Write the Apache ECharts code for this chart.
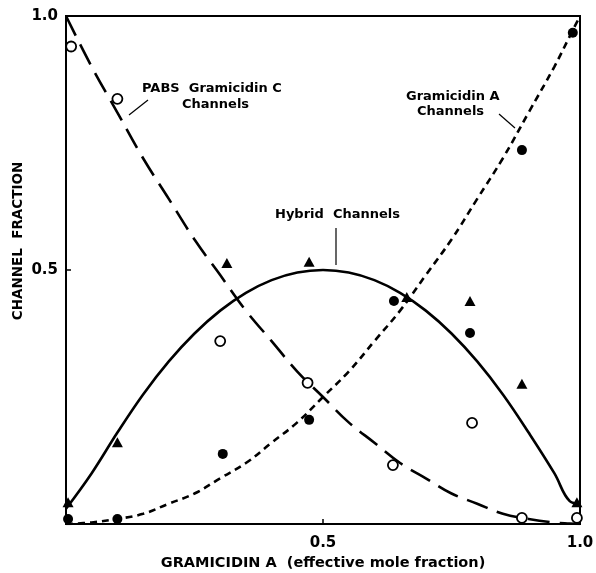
<!DOCTYPE html>
<html>
<head>
<meta charset="utf-8">
<script src="https://cdn.jsdelivr.net/npm/echarts@6/dist/echarts.min.js"></script>
<style>
  html, body { margin: 0; padding: 0; background: #fff; }
  #chart { width: 596px; height: 573px; }
</style>
</head>
<body>
<div id="chart"></div>
<script>
// Fitted curves: channel fraction vs. effective mole fraction of gramicidin A
const curveX      = [0, 0.05, 0.1, 0.15, 0.2, 0.25, 0.3, 0.35, 0.4, 0.45, 0.5, 0.55, 0.6, 0.65, 0.7, 0.75, 0.8, 0.85, 0.9, 0.95, 0.98, 1.0];
const pabsCurve   = [1.0, 0.9, 0.81, 0.72, 0.64, 0.56, 0.49, 0.42, 0.36, 0.3, 0.25, 0.2, 0.16, 0.12, 0.09, 0.06, 0.04, 0.02, 0.01, 0.003, 0.001, 0];
const gaCurve     = [0, 0.003, 0.01, 0.02, 0.04, 0.06, 0.09, 0.12, 0.16, 0.2, 0.25, 0.3, 0.36, 0.42, 0.49, 0.56, 0.64, 0.72, 0.81, 0.9, 0.96, 1.0];
const hybridCurve = [0.03, 0.1, 0.18, 0.255, 0.32, 0.375, 0.42, 0.455, 0.48, 0.495, 0.5, 0.495, 0.48, 0.455, 0.42, 0.375, 0.32, 0.255, 0.18, 0.1, 0.045, 0.04];

// Measured points
const pabsX   = [0.01, 0.10, 0.30, 0.47, 0.636, 0.79, 0.887, 0.994];
const pabsY   = [0.94, 0.837, 0.36, 0.278, 0.116, 0.199, 0.012, 0.012];
const gaX     = [0.004, 0.10, 0.305, 0.473, 0.638, 0.786, 0.887, 0.986];
const gaY     = [0.01, 0.01, 0.138, 0.205, 0.439, 0.376, 0.736, 0.967];
const hybX    = [0.004, 0.10, 0.313, 0.473, 0.663, 0.786, 0.887, 0.994];
const hybY    = [0.043, 0.161, 0.514, 0.516, 0.447, 0.439, 0.276, 0.043];

// Axis tick labels
const xTickLabels = { 0.5: '0.5', 1: '1.0' };
const yTickLabels = { 0.5: '0.5', 1: '1.0' };

const zip = (xs, ys) => xs.map((x, i) => [x, ys[i]]);

const chart = echarts.init(document.getElementById('chart'), null, { renderer: 'canvas' });

const axisFont = { fontFamily: 'DejaVu Sans', fontWeight: 'bold', fontSize: 15, color: '#000' };
const noteFont = { fontFamily: 'DejaVu Sans', fontWeight: 'bold', fontSize: 13, fill: '#000' };

chart.setOption({
  animation: false,
  backgroundColor: '#fff',
  grid: {
    left: 66, right: 16, top: 16, bottom: 49,
    outerBoundsMode: 'none', containLabel: false,
    show: true, borderColor: '#000', borderWidth: 2, backgroundColor: 'transparent'
  },
  xAxis: {
    type: 'value', min: 0, max: 1, interval: 0.5,
    name: 'GRAMICIDIN A  (effective mole fraction)',
    nameLocation: 'middle', nameGap: 31,
    nameTextStyle: { fontFamily: 'DejaVu Sans', fontWeight: 'bold', fontSize: 14.5, color: '#000' },
    axisLine: { lineStyle: { color: '#000', width: 2 } },
    axisTick: { inside: true, length: 5, lineStyle: { color: '#000', width: 1.5 } },
    axisLabel: Object.assign({ margin: 12, formatter: v => xTickLabels[v] || '' }, axisFont),
    splitLine: { show: false }
  },
  yAxis: {
    type: 'value', min: 0, max: 1, interval: 0.5,
    axisLine: { lineStyle: { color: '#000', width: 2 } },
    axisTick: { inside: true, length: 5, lineStyle: { color: '#000', width: 1.5 } },
    axisLabel: Object.assign({ margin: 8, formatter: v => yTickLabels[v] || '' }, axisFont),
    splitLine: { show: false }
  },
  series: [
    {
      name: 'PABS Gramicidin C Channels', type: 'line', smooth: 0.4, showSymbol: false,
      data: zip(curveX, pabsCurve),
      lineStyle: { color: '#000', width: 2.6, type: [22, 10] }, z: 2
    },
    {
      name: 'Gramicidin A Channels', type: 'line', smooth: 0.4, showSymbol: false,
      data: zip(curveX, gaCurve),
      lineStyle: { color: '#000', width: 2.6, type: [7, 5] }, z: 2
    },
    {
      name: 'Hybrid Channels', type: 'line', smooth: 0.4, showSymbol: false,
      data: zip(curveX, hybridCurve),
      lineStyle: { color: '#000', width: 2.6 }, z: 2
    },
    {
      type: 'scatter', symbol: 'circle', symbolSize: 10,
      data: zip(pabsX, pabsY),
      itemStyle: { color: '#fff', borderColor: '#000', borderWidth: 1.8, opacity: 1 }, z: 4
    },
    {
      type: 'scatter', symbol: 'circle', symbolSize: 10,
      data: zip(gaX, gaY),
      itemStyle: { color: '#000', opacity: 1 }, z: 4
    },
    {
      type: 'scatter', symbol: 'triangle', symbolSize: [11, 10],
      data: zip(hybX, hybY),
      itemStyle: { color: '#000', opacity: 1 }, z: 4
    }
  ],
  graphic: [
    // vertical axis title
    {
      type: 'text', x: 18, y: 241, rotation: Math.PI / 2,
      style: { text: 'CHANNEL  FRACTION', fontFamily: 'DejaVu Sans', fontWeight: 'bold', fontSize: 13.5, fill: '#000', align: 'center', verticalAlign: 'middle' }
    },

    { type: 'text', left: 142, top: 82, style: Object.assign({ text: 'PABS  Gramicidin C' }, noteFont) },
    { type: 'text', left: 182, top: 98, style: Object.assign({ text: 'Channels' }, noteFont) },
    { type: 'line', shape: { x1: 148, y1: 100, x2: 129, y2: 115 }, style: { stroke: '#000', lineWidth: 1.2 } },

    { type: 'text', left: 406, top: 90, style: Object.assign({ text: 'Gramicidin A' }, noteFont) },
    { type: 'text', left: 417, top: 105, style: Object.assign({ text: 'Channels' }, noteFont) },
    { type: 'line', shape: { x1: 499, y1: 114, x2: 515, y2: 128 }, style: { stroke: '#000', lineWidth: 1.2 } },

    { type: 'text', left: 275, top: 208, style: Object.assign({ text: 'Hybrid  Channels' }, noteFont) },
    { type: 'line', shape: { x1: 336, y1: 228, x2: 336, y2: 265 }, style: { stroke: '#000', lineWidth: 1.2 } }
  ]
});
</script>
</body>
</html>
